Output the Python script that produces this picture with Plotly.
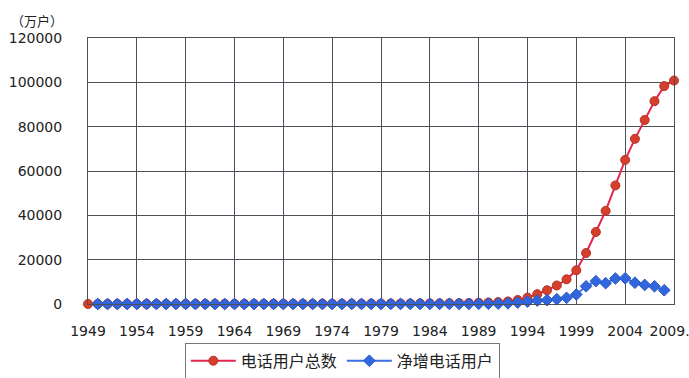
import plotly.graph_objects as go

# Years on the category axis (last point is March 2009)
years = [str(y) for y in range(1949, 2009)] + ["2009.3"]

# Total telephone users, 10k households (万户)
total_users = [
    22, 25, 28, 32, 36, 40, 45, 50, 55, 62,
    70, 80, 82, 83, 85, 88, 92, 96, 100, 105,
    110, 118, 126, 135, 145, 155, 165, 172, 180, 193,
    203, 214, 225, 235, 250, 277, 312, 350, 391, 473,
    568, 685, 850, 1165, 1797, 2886, 4433, 6180, 8354, 11128,
    15200, 23000, 32500, 42000, 53500, 65000, 74500, 83000, 91500, 98300,
    100800,
]

# Net new telephone users per year, 1950-2008
net_years = [str(y) for y in range(1950, 2009)]
net_new = [
    3, 3, 4, 4, 4, 5, 5, 5, 7,
    8, 10, 2, 1, 2, 3, 4, 4, 4, 5,
    5, 8, 8, 9, 10, 10, 10, 7, 8, 13,
    10, 11, 11, 10, 15, 27, 35, 38, 41, 82,
    95, 117, 165, 315, 632, 1089, 1547, 1747, 2174, 2774,
    4300, 8000, 10300, 9400, 11500, 11600, 9600, 8600, 8000, 6200,
]

tick_years = years[::5]
tick_text = tick_years

red_line = "#e3274f"
red_marker = "#d4402c"
blue_line = "#3d6ee6"
blue_marker = "#3266dc"

fig = go.Figure()
fig.add_trace(go.Scatter(
    x=years, y=total_users, name="电话用户总数", mode="lines+markers",
    line=dict(color=red_line, width=2),
    marker=dict(symbol="circle", size=9, color=red_marker,
                line=dict(color="#b8302a", width=1)),
    cliponaxis=False,
))
fig.add_trace(go.Scatter(
    x=net_years, y=net_new, name="净增电话用户", mode="lines+markers",
    line=dict(color=blue_line, width=2),
    marker=dict(symbol="diamond", size=9, color=blue_marker,
                line=dict(color="#2b58c4", width=1)),
    cliponaxis=False,
))

grid = "#4d4f58"
fig.update_layout(
    width=689, height=378,
    margin=dict(l=88, r=15, t=38, b=73.5, autoexpand=False),
    paper_bgcolor="white", plot_bgcolor="white",
    font=dict(family="DejaVu Sans", size=14, color="#222"),
    showlegend=True,
    legend=dict(
        orientation="h", x=0.434, xanchor="center", y=-0.146, yanchor="top",
        font=dict(family="Noto Sans CJK SC", size=16, color="#222"),
        bordercolor="#777", borderwidth=1, bgcolor="white",
        itemwidth=45, tracegroupgap=0,
    ),
    xaxis=dict(
        type="category", categoryorder="array", categoryarray=years,
        range=[0, len(years) - 1], automargin=False,
        tickmode="array", tickvals=tick_years, ticktext=tick_text,
        showgrid=True, gridcolor=grid, gridwidth=1,
        showline=True, linecolor=grid, linewidth=1, mirror=True,
        ticks="", ticklabelstandoff=14, tickangle=0,
        zeroline=False,
    ),
    yaxis=dict(
        range=[0, 120000], tickvals=list(range(0, 120001, 20000)),
        tickformat="d", automargin=False,
        showgrid=True, gridcolor=grid, gridwidth=1,
        showline=True, linecolor=grid, linewidth=1, mirror=True,
        ticks="", ticklabelstandoff=22,
        zeroline=False,
    ),
    annotations=[dict(
        text="（万户）", xref="paper", yref="paper",
        x=-0.135, y=1.065, xanchor="left", yanchor="middle",
        showarrow=False,
        font=dict(family="Noto Sans CJK SC", size=13, color="#222"),
    )],
)

fig.write_html("out.html")
